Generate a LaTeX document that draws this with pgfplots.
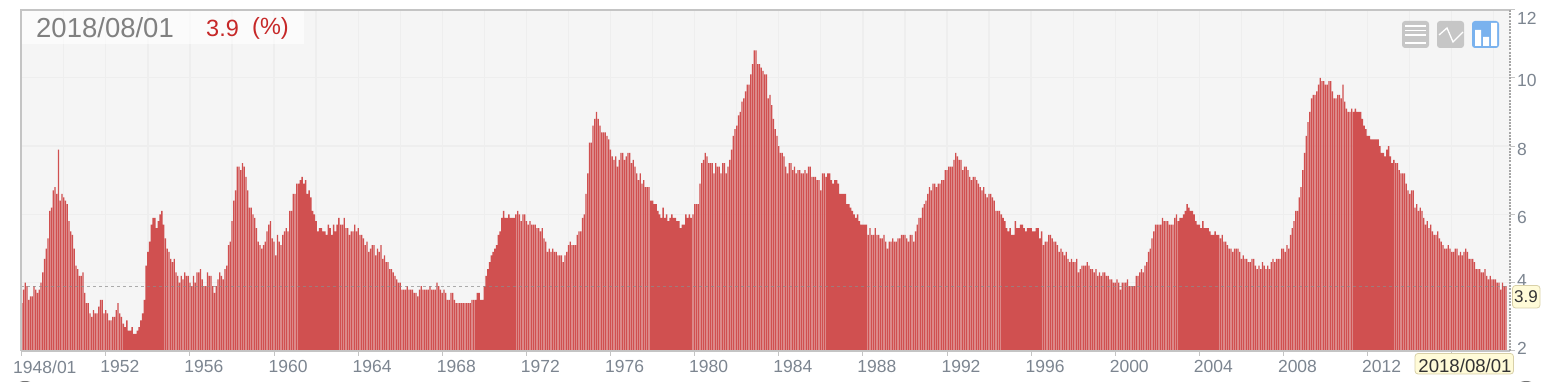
\documentclass[border=0pt]{standalone}
\usepackage{fontspec}
\setmainfont{Liberation Sans}
\usepackage{pgfplots}
\pgfplotsset{compat=1.18}
\definecolor{barc}{HTML}{D05050}
\definecolor{gridc}{HTML}{EEEEEE}
\definecolor{bgc}{HTML}{F5F5F5}
\definecolor{axc}{HTML}{C4C4C4}
\definecolor{tickc}{HTML}{7C8590}
\definecolor{tipc}{HTML}{FFFBD8}
\definecolor{tipb}{HTML}{D8D0A8}
\definecolor{iconc}{HTML}{C6C6C6}
\definecolor{blueic}{HTML}{7AB2EE}
\definecolor{redc}{HTML}{C62828}
\newcommand{\yl}[2]{\raisebox{#1pt}[0pt][0pt]{#2}}
\begin{document}
\begin{tikzpicture}[x=1pt,y=1pt]
\path[use as bounding box] (0,0) rectangle (1542,382);
\begin{axis}[
  at={(21pt,31pt)},anchor=south west,
  scale only axis,width=1489pt,height=341.5pt,
  xmin=-0.4,xmax=849.25,ymin=2,ymax=12,
  ybar,bar width=1.31pt,bar shift=0pt,
  axis background/.style={fill=bgc},
  axis line style={draw=none},
  xtick={0,48,96,144,192,240,288,336,384,432,480,528,576,624,672,720,768,816},
  xticklabels={\hspace*{-3pt}1948/01,1952,1956,1960,1964,1968,1972,1976,1980,1984,1988,1992,1996,2000,2004,2008,2012,2016},
  minor xtick={24,72,120,168,216,264,312,360,408,456,504,552,600,648,696,744,792,840},
  ytick={2,4,6,8,10,12},
  yticklabels={\yl{-4}{2},\yl{-4}{4},\yl{-9}{6},\yl{-9}{8},\yl{-8.5}{10},\yl{-15}{12}},
  xtick pos=bottom,ytick pos=right,yticklabel pos=right,
  tick align=outside,major tick length=5pt,minor tick length=0pt,
  tick style={draw=axc,line width=1pt},
  grid=both,
  major grid style={draw=gridc,line width=1.3pt},
  minor grid style={draw=gridc,line width=1.3pt},
  tick label style={font=\fontsize{17.5}{18}\selectfont,text=tickc},
  x tick label style={anchor=north west,xshift=-9pt,yshift=-1pt},
  y tick label style={anchor=west,xshift=-1.5pt},
]
\addplot[fill=barc,draw=none,bar shift=0pt] table[row sep=crcr,header=false,x expr=\coordindex,y index=0]{
3.4\\3.8\\4.0\\3.9\\3.5\\3.6\\3.6\\3.9\\3.8\\3.7\\3.8\\4.0\\
4.3\\4.7\\5.0\\5.3\\6.1\\6.2\\6.7\\6.8\\6.6\\7.9\\6.4\\6.6\\
6.5\\6.4\\6.3\\5.8\\5.5\\5.4\\5.0\\4.5\\4.4\\4.2\\4.2\\4.3\\
3.7\\3.4\\3.4\\3.1\\3.0\\3.2\\3.1\\3.1\\3.3\\3.5\\3.5\\3.1\\
3.2\\3.1\\2.9\\2.9\\3.0\\3.0\\3.2\\3.4\\3.1\\3.0\\2.8\\2.7\\
2.9\\2.6\\2.6\\2.7\\2.5\\2.5\\2.6\\2.7\\2.9\\3.1\\3.5\\4.5\\
4.9\\5.2\\5.7\\5.9\\5.9\\5.6\\5.8\\6.0\\6.1\\5.7\\5.3\\5.0\\
4.9\\4.7\\4.6\\4.7\\4.3\\4.2\\4.0\\4.2\\4.1\\4.3\\4.2\\4.2\\
4.0\\3.9\\4.2\\4.0\\4.3\\4.3\\4.4\\4.1\\3.9\\3.9\\4.3\\4.2\\
4.2\\3.9\\3.7\\3.9\\4.1\\4.3\\4.2\\4.1\\4.4\\4.5\\5.1\\5.2\\
5.8\\6.4\\6.7\\7.4\\7.4\\7.3\\7.5\\7.4\\7.1\\6.7\\6.2\\6.2\\
6.0\\5.9\\5.6\\5.2\\5.1\\5.0\\5.1\\5.2\\5.5\\5.7\\5.8\\5.3\\
5.2\\4.8\\5.4\\5.2\\5.1\\5.4\\5.5\\5.6\\5.5\\6.1\\6.1\\6.6\\
6.6\\6.9\\6.9\\7.0\\7.1\\6.9\\7.0\\6.6\\6.7\\6.5\\6.1\\6.0\\
5.8\\5.5\\5.6\\5.6\\5.5\\5.5\\5.4\\5.7\\5.6\\5.4\\5.7\\5.5\\
5.7\\5.9\\5.7\\5.7\\5.9\\5.6\\5.6\\5.4\\5.5\\5.5\\5.7\\5.5\\
5.6\\5.4\\5.4\\5.3\\5.1\\5.2\\4.9\\5.0\\5.1\\5.1\\4.8\\5.0\\
4.9\\5.1\\4.7\\4.8\\4.6\\4.6\\4.4\\4.4\\4.3\\4.2\\4.1\\4.0\\
4.0\\3.8\\3.8\\3.8\\3.9\\3.8\\3.8\\3.8\\3.7\\3.7\\3.6\\3.8\\
3.9\\3.8\\3.8\\3.8\\3.8\\3.9\\3.8\\3.8\\3.8\\4.0\\3.9\\3.8\\
3.7\\3.8\\3.7\\3.5\\3.5\\3.7\\3.7\\3.5\\3.4\\3.4\\3.4\\3.4\\
3.4\\3.4\\3.4\\3.4\\3.4\\3.5\\3.5\\3.5\\3.7\\3.7\\3.5\\3.5\\
3.9\\4.2\\4.4\\4.6\\4.8\\4.9\\5.0\\5.1\\5.4\\5.5\\5.9\\6.1\\
5.9\\5.9\\6.0\\5.9\\5.9\\5.9\\6.0\\6.1\\6.0\\5.8\\6.0\\6.0\\
5.8\\5.7\\5.8\\5.7\\5.7\\5.7\\5.6\\5.6\\5.5\\5.6\\5.3\\5.2\\
4.9\\5.0\\4.9\\5.0\\4.9\\4.9\\4.8\\4.8\\4.8\\4.6\\4.8\\4.9\\
5.1\\5.2\\5.1\\5.1\\5.1\\5.4\\5.5\\5.5\\5.9\\6.0\\6.6\\7.2\\
8.1\\8.1\\8.6\\8.8\\9.0\\8.8\\8.6\\8.4\\8.4\\8.4\\8.3\\8.2\\
7.9\\7.7\\7.6\\7.7\\7.4\\7.6\\7.8\\7.8\\7.6\\7.7\\7.8\\7.8\\
7.5\\7.6\\7.4\\7.2\\7.0\\7.2\\6.9\\7.0\\6.8\\6.8\\6.8\\6.4\\
6.4\\6.3\\6.3\\6.1\\6.0\\5.9\\6.2\\5.9\\6.0\\5.8\\5.9\\6.0\\
5.9\\5.9\\5.8\\5.8\\5.6\\5.7\\5.7\\6.0\\5.9\\6.0\\5.9\\6.0\\
6.3\\6.3\\6.3\\6.9\\7.5\\7.6\\7.8\\7.7\\7.5\\7.5\\7.5\\7.2\\
7.5\\7.4\\7.4\\7.2\\7.5\\7.5\\7.2\\7.4\\7.6\\7.9\\8.3\\8.5\\
8.6\\8.9\\9.0\\9.3\\9.4\\9.6\\9.8\\9.8\\10.1\\10.4\\10.8\\10.8\\
10.4\\10.4\\10.3\\10.2\\10.1\\10.1\\9.4\\9.5\\9.2\\8.8\\8.5\\8.3\\
8.0\\7.8\\7.8\\7.7\\7.4\\7.2\\7.5\\7.5\\7.3\\7.4\\7.2\\7.3\\
7.3\\7.2\\7.2\\7.3\\7.2\\7.4\\7.4\\7.1\\7.1\\7.1\\7.0\\7.0\\
6.7\\7.2\\7.2\\7.1\\7.2\\7.2\\7.0\\6.9\\7.0\\7.0\\6.9\\6.6\\
6.6\\6.6\\6.6\\6.3\\6.3\\6.2\\6.1\\6.0\\5.9\\6.0\\5.8\\5.7\\
5.7\\5.7\\5.7\\5.4\\5.6\\5.4\\5.4\\5.6\\5.4\\5.4\\5.3\\5.3\\
5.4\\5.2\\5.0\\5.2\\5.2\\5.3\\5.2\\5.2\\5.3\\5.3\\5.4\\5.4\\
5.4\\5.3\\5.2\\5.4\\5.4\\5.2\\5.5\\5.7\\5.9\\5.9\\6.2\\6.3\\
6.4\\6.6\\6.8\\6.7\\6.9\\6.9\\6.8\\6.9\\6.9\\7.0\\7.0\\7.3\\
7.3\\7.4\\7.4\\7.4\\7.6\\7.8\\7.7\\7.6\\7.6\\7.3\\7.4\\7.4\\
7.3\\7.1\\7.0\\7.1\\7.1\\7.0\\6.9\\6.8\\6.7\\6.8\\6.6\\6.5\\
6.6\\6.6\\6.5\\6.4\\6.1\\6.1\\6.1\\6.0\\5.9\\5.8\\5.6\\5.5\\
5.6\\5.4\\5.4\\5.8\\5.6\\5.6\\5.7\\5.7\\5.6\\5.5\\5.6\\5.6\\
5.6\\5.5\\5.5\\5.6\\5.6\\5.3\\5.5\\5.1\\5.2\\5.2\\5.4\\5.4\\
5.3\\5.2\\5.2\\5.1\\4.9\\5.0\\4.9\\4.8\\4.9\\4.7\\4.6\\4.7\\
4.6\\4.6\\4.7\\4.3\\4.4\\4.5\\4.5\\4.5\\4.6\\4.5\\4.4\\4.4\\
4.3\\4.4\\4.2\\4.3\\4.2\\4.3\\4.3\\4.2\\4.2\\4.1\\4.1\\4.0\\
4.0\\4.1\\4.0\\3.8\\4.0\\4.0\\4.0\\4.1\\3.9\\3.9\\3.9\\3.9\\
4.2\\4.2\\4.3\\4.4\\4.3\\4.5\\4.6\\4.9\\5.0\\5.3\\5.5\\5.7\\
5.7\\5.7\\5.7\\5.9\\5.8\\5.8\\5.8\\5.7\\5.7\\5.7\\5.9\\6.0\\
5.8\\5.9\\5.9\\6.0\\6.1\\6.3\\6.2\\6.1\\6.1\\6.0\\5.8\\5.7\\
5.7\\5.6\\5.8\\5.6\\5.6\\5.6\\5.5\\5.4\\5.4\\5.5\\5.4\\5.4\\
5.3\\5.4\\5.2\\5.2\\5.1\\5.0\\5.0\\4.9\\5.0\\5.0\\5.0\\4.9\\
4.7\\4.8\\4.7\\4.7\\4.6\\4.6\\4.7\\4.7\\4.5\\4.4\\4.5\\4.4\\
4.6\\4.5\\4.4\\4.5\\4.4\\4.6\\4.7\\4.6\\4.7\\4.7\\4.7\\5.0\\
5.0\\4.9\\5.1\\5.0\\5.4\\5.6\\5.8\\6.1\\6.1\\6.5\\6.8\\7.3\\
7.8\\8.3\\8.7\\9.0\\9.4\\9.5\\9.5\\9.6\\9.8\\10.0\\9.9\\9.9\\
9.8\\9.8\\9.9\\9.9\\9.6\\9.4\\9.4\\9.5\\9.5\\9.4\\9.8\\9.3\\
9.1\\9.0\\9.0\\9.1\\9.0\\9.1\\9.0\\9.0\\9.0\\8.8\\8.6\\8.5\\
8.3\\8.3\\8.2\\8.2\\8.2\\8.2\\8.2\\8.0\\7.8\\7.8\\7.7\\7.9\\
8.0\\7.7\\7.5\\7.6\\7.5\\7.5\\7.3\\7.2\\7.2\\7.2\\6.9\\6.7\\
6.6\\6.7\\6.7\\6.2\\6.3\\6.1\\6.2\\6.1\\5.9\\5.7\\5.8\\5.6\\
5.7\\5.5\\5.4\\5.4\\5.5\\5.3\\5.2\\5.1\\5.0\\5.0\\5.1\\5.0\\
4.9\\4.9\\5.0\\5.0\\4.8\\4.9\\4.8\\4.9\\5.0\\4.9\\4.7\\4.7\\
4.7\\4.6\\4.4\\4.4\\4.4\\4.3\\4.3\\4.4\\4.2\\4.1\\4.2\\4.1\\
4.1\\4.1\\4.0\\4.0\\3.8\\4.0\\3.9\\3.9\\
};
\addplot[sharp plot,draw=black!45,dashed,line width=0.7pt,forget plot,opacity=.7] coordinates {(-0.4,3.9) (849.25,3.9)};
\end{axis}
\begin{scope}[shift={(0,382)},y=-1pt]
  % frame
  \draw[axc,line width=1.3pt] (21,351) -- (21,10) -- (1510,10);
  \draw[axc,line width=1.3pt] (21,351) -- (1510,351);
  \draw[black!35,line width=1.2pt,dash pattern=on 2pt off 1.2pt] (1510,10) -- (1510,351);
  % title panel
  \fill[white,opacity=.6] (22,11.5) rectangle (304,44);
  \node[anchor=west,text=black!50,inner sep=0pt,font=\fontsize{27.5}{28}\selectfont] at (36,28) {2018/08/01};
  \node[anchor=west,text=redc,inner sep=0pt,font=\fontsize{23.5}{28}\selectfont] at (206,28) {3.9};
  \node[anchor=west,text=redc,inner sep=0pt,font=\fontsize{23.5}{28}\selectfont] at (252,28) {(\%)};
  % icons
  \fill[iconc,rounded corners=3pt] (1402,21) rectangle (1429,48);
  \draw[white,line width=1.1pt] (1405,26)--(1426,26) (1405,30.5)--(1426,30.5) (1405,35)--(1426,35) (1405,43)--(1426,43);
  \fill[iconc,rounded corners=3pt] (1437,21) rectangle (1464,48);
  \draw[white,line width=1.3pt] (1439,35)--(1447,28)--(1453,42)--(1463,32);
  \fill[blueic,rounded corners=3pt] (1472,21) rectangle (1499,48);
  \fill[white] (1475,30) rectangle (1481,46) (1483,37) rectangle (1489,46) (1491,23) rectangle (1497,46);
  % tooltips
  \draw[tipb,fill=tipc,rounded corners=3pt,line width=.8pt] (1512.5,285.5) rectangle (1540,308);
  \node[text=black!80,inner sep=0pt,font=\fontsize{17}{18}\selectfont] at (1526,297) {3.9};
  \draw[tipb,fill=tipc,rounded corners=3pt,line width=.8pt] (1415,353.5) rectangle (1513.5,374);
  \node[text=black!80,inner sep=0pt,font=\fontsize{18.6}{20}\selectfont] at (1465,366) {2018/08/01};
  % navigator handles
  \begin{scope}
    \clip (0,0) rectangle (1542,382);
    \fill[black!55] (25,385) ellipse (8 and 4);
    \fill[black!55] (1526,385) ellipse (8 and 4);
  \end{scope}
\end{scope}
\end{tikzpicture}
\end{document}
